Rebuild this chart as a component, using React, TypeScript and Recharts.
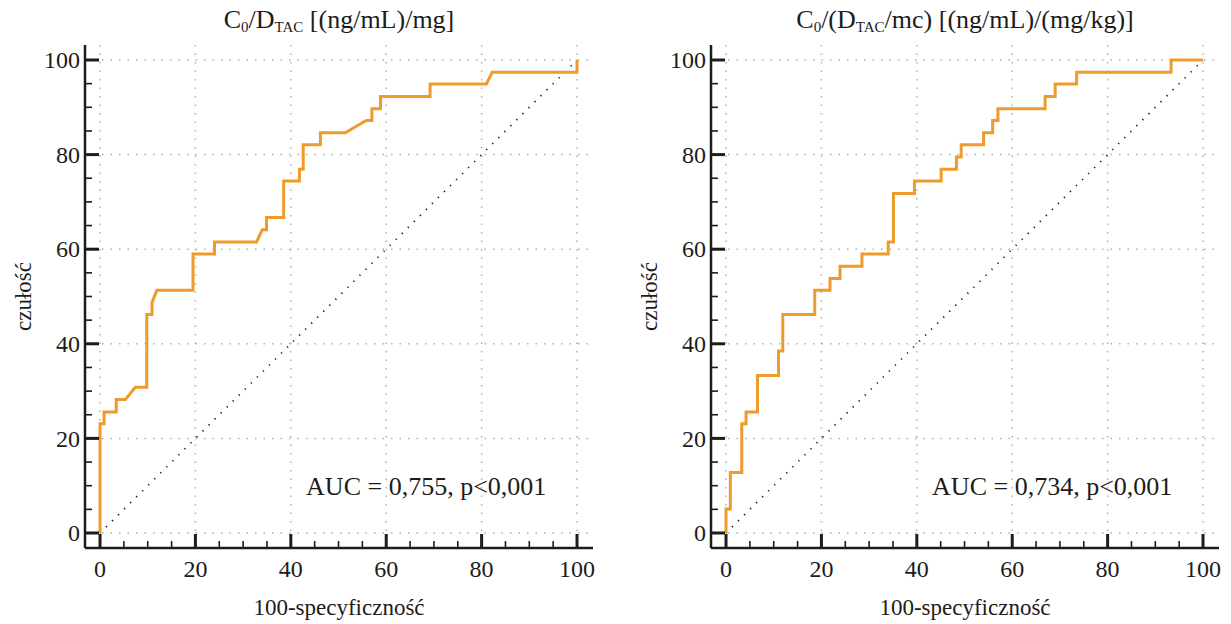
import React from 'react';
import { LineChart, Line, XAxis, YAxis, ReferenceLine, ReferenceDot } from 'recharts';

// ---------- data ----------
// Left panel: C0/DTAC [(ng/mL)/mg]  (100-specificity, sensitivity) corners of the ROC step curve
const leftFpr = [0, 0, 0.85, 0.85, 3.4, 3.4, 5.3, 7.4, 9.8, 9.8, 10.9, 10.9, 11.9, 19.5, 19.5, 24, 24, 32.8, 34, 34.9, 34.9, 38.5, 38.5, 41.8, 41.8, 42.6, 42.6, 46.2, 46.2, 51.4, 55.8, 57, 57, 58.8, 58.8, 69.2, 69.2, 81, 82.2, 100, 100];
const leftTpr = [0, 23.1, 23.1, 25.6, 25.6, 28.2, 28.2, 30.8, 30.8, 46.2, 46.2, 48.7, 51.3, 51.3, 59.0, 59.0, 61.5, 61.5, 64.1, 64.1, 66.7, 66.7, 74.4, 74.4, 76.9, 76.9, 82.1, 82.1, 84.6, 84.6, 87.2, 87.2, 89.7, 89.7, 92.3, 92.3, 94.9, 94.9, 97.4, 97.4, 100];

// Right panel: C0/(DTAC/mc) [(ng/mL)/(mg/kg)]
const rightFpr = [0, 0, 0.9, 0.9, 3.3, 3.3, 4.2, 4.2, 6.6, 6.6, 11, 11, 11.9, 11.9, 18.6, 18.6, 21.8, 21.8, 23.9, 23.9, 28.5, 28.5, 34, 34, 35.1, 35.1, 39.5, 39.5, 45.1, 45.1, 48.3, 48.3, 49.3, 49.3, 54, 54, 55.9, 55.9, 57, 57, 66.9, 66.9, 69, 69, 73.5, 73.5, 93.3, 93.3, 100];
const rightTpr = [0, 5.1, 5.1, 12.8, 12.8, 23.1, 23.1, 25.6, 25.6, 33.3, 33.3, 38.5, 38.5, 46.2, 46.2, 51.3, 51.3, 53.8, 53.8, 56.4, 56.4, 59.0, 59.0, 61.5, 61.5, 71.8, 71.8, 74.4, 74.4, 76.9, 76.9, 79.5, 79.5, 82.1, 82.1, 84.6, 84.6, 87.2, 87.2, 89.7, 89.7, 92.3, 92.3, 94.9, 94.9, 97.4, 97.4, 100, 100];

// reference diagonal
const diagFpr = [0, 100];
const diagTpr = [0, 100];

const axisTicks = [0, 5, 10, 15, 20, 25, 30, 35, 40, 45, 50, 55, 60, 65, 70, 75, 80, 85, 90, 95, 100];
const gridValues = [0, 20, 40, 60, 80, 100];

const xTitle = '100-specyficzność';
const yTitle = 'czułość';
const leftAuc = 'AUC = 0,755, p<0,001';
const rightAuc = 'AUC = 0,734, p<0,001';

// ---------- style / layout ----------
const FONT = '"Liberation Serif", "Times New Roman", Times, serif';
const W = 615;
const H = 624;
const X_DOMAIN: [number, number] = [-3.15, 103.35];
const Y_DOMAIN: [number, number] = [-3.17, 103.17];
const AUC_ANCHOR = { x: 43.2, y: 10 };
const ORANGE = '#EE9B2C';
const INK = '#1c1c1c';
const GRID = '#b0b0b0';

const XTick = (props: any) => {
  const { x, y, payload } = props;
  const v = payload.value;
  const major = v % 20 === 0;
  return (
    <g>
      <line x1={x} y1={y} x2={x} y2={y - (major ? 14 : 7)} stroke={INK} strokeWidth={major ? 3 : 1.6} />
      {major && (
        <text x={x} y={y + 29} textAnchor="middle" fontFamily={FONT} fontSize={24} fill={INK}>
          {v}
        </text>
      )}
    </g>
  );
};

const YTick = (props: any) => {
  const { x, y, payload } = props;
  const v = payload.value;
  const major = v % 20 === 0;
  return (
    <g>
      <line x1={x} y1={y} x2={x + (major ? 14 : 7)} y2={y} stroke={INK} strokeWidth={major ? 3 : 1.6} />
      {major && (
        <text x={x - 5} y={y} dy="0.34em" textAnchor="end" fontFamily={FONT} fontSize={24} fill={INK}>
          {v}
        </text>
      )}
    </g>
  );
};

const renderXTitle = (p: any) => {
  const vb = p.viewBox || { x: 85, y: 548, width: 508, height: 76 };
  return (
    <text x={vb.x + vb.width / 2} y={vb.y + 67} textAnchor="middle" fontFamily={FONT} fontSize={23} fill={INK}>
      {xTitle}
    </text>
  );
};

const renderYTitle = (p: any) => {
  const vb = p.viewBox || { x: 0, y: 45, width: 85, height: 503 };
  const cx = vb.x + 31;
  const cy = vb.y + vb.height / 2;
  return (
    <text x={cx} y={cy} transform={`rotate(-90, ${cx}, ${cy})`} textAnchor="middle" fontFamily={FONT} fontSize={23} fill={INK}>
      {yTitle}
    </text>
  );
};

function Panel({ fpr, tpr, auc, title, left }: any) {
  const rocData = fpr.map((x: number, i: number) => ({ x, y: tpr[i] }));
  const diagData = diagFpr.map((x: number, i: number) => ({ x, y: diagTpr[i] }));
  return (
    <div style={{ position: 'absolute', left, top: 0, width: W, height: H }}>
      <LineChart width={W} height={H} margin={{ top: 45, right: 22, bottom: 0, left: 0 }}>
        <XAxis
          type="number"
          dataKey="x"
          domain={X_DOMAIN}
          allowDataOverflow
          ticks={axisTicks}
          interval={0}
          tick={<XTick />}
          tickLine={false}
          tickSize={0}
          tickMargin={0}
          axisLine={{ stroke: INK, strokeWidth: 2.5 }}
          height={76}
          label={{ content: renderXTitle }}
        />
        <YAxis
          type="number"
          dataKey="y"
          domain={Y_DOMAIN}
          allowDataOverflow
          ticks={axisTicks}
          interval={0}
          tick={<YTick />}
          tickLine={false}
          tickSize={0}
          tickMargin={0}
          axisLine={{ stroke: INK, strokeWidth: 2.5 }}
          width={85}
          label={{ content: renderYTitle }}
        />
        {gridValues.map((v) => (
          <ReferenceLine key={'gx' + v} x={v} stroke={GRID} strokeWidth={1.5} strokeDasharray="1.5 7" />
        ))}
        {gridValues.map((v) => (
          <ReferenceLine key={'gy' + v} y={v} stroke={GRID} strokeWidth={1.5} strokeDasharray="1.5 7" />
        ))}
        <Line
          data={diagData}
          dataKey="y"
          type="linear"
          stroke={INK}
          strokeWidth={1.8}
          strokeDasharray="1.2 7.3"
          dot={false}
          activeDot={false}
          isAnimationActive={false}
        />
        <Line
          data={rocData}
          dataKey="y"
          type="linear"
          stroke={ORANGE}
          strokeWidth={3}
          strokeLinejoin="miter"
          dot={false}
          activeDot={false}
          isAnimationActive={false}
        />
        <ReferenceDot
          x={AUC_ANCHOR.x}
          y={AUC_ANCHOR.y}
          r={0}
          stroke="none"
          fill="none"
          label={{ value: auc, position: 'right', offset: 0, fontSize: 26, fontFamily: FONT, fill: INK }}
        />
      </LineChart>
      <svg width={W} height={45} style={{ position: 'absolute', left: 0, top: 0, pointerEvents: 'none' }}>
        {title}
      </svg>
    </div>
  );
}

const leftTitle = (
  <text x={339} y={28} textAnchor="middle" fontFamily={FONT} fontSize={26} fill={INK}>
    C<tspan fontSize={15} dy={4}>0</tspan>
    <tspan dy={-4}>/D</tspan>
    <tspan fontSize={15} dy={4}>TAC</tspan>
    <tspan dy={-4}> [(ng/mL)/mg]</tspan>
  </text>
);

const rightTitle = (
  <text x={339} y={28} textAnchor="middle" fontFamily={FONT} fontSize={26} fill={INK}>
    C<tspan fontSize={15} dy={4}>0</tspan>
    <tspan dy={-4}>/(D</tspan>
    <tspan fontSize={15} dy={4}>TAC</tspan>
    <tspan dy={-4}>/mc) [(ng/mL)/(mg/kg)]</tspan>
  </text>
);

export default function App() {
  return (
    <div style={{ position: 'absolute', left: 0, top: 0, width: 1231, height: 624, background: '#fff' }}>
      <Panel fpr={leftFpr} tpr={leftTpr} auc={leftAuc} title={leftTitle} left={0} />
      <Panel fpr={rightFpr} tpr={rightTpr} auc={rightAuc} title={rightTitle} left={626} />
    </div>
  );
}
